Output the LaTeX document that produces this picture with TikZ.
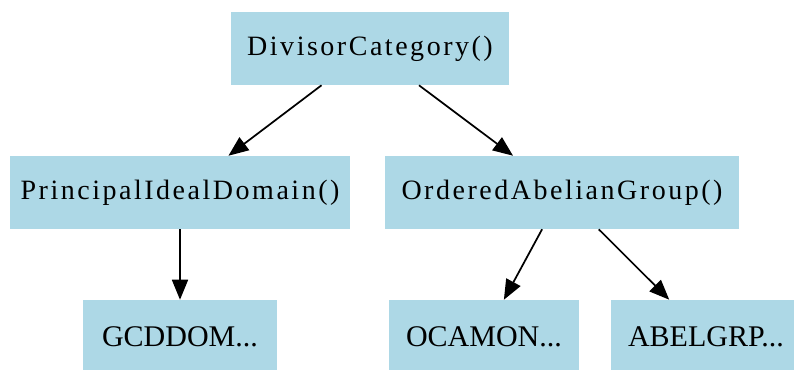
\documentclass[tikz,border=0pt]{standalone}
\usepackage{fontspec}
\setmainfont{Liberation Serif}
\newfontfamily\spacedfont[LetterSpace=9]{Liberation Serif}
\usetikzlibrary{arrows.meta}

\definecolor{categoryFill}{RGB}{173,216,230}

\begin{document}
\begin{tikzpicture}[x=.75pt,y=-.75pt,
      category/.style={fill=categoryFill, inner sep=0pt, minimum height=54.75pt,
        font=\fontsize{21}{24}\selectfont\spacedfont},
      short/.style={category, font=\fontsize{22.5}{26}\selectfont\rmfamily},
      edge/.style={draw, line width=1.3pt,
        -{Triangle[length=15pt, width=12pt]}}]
      \useasboundingbox (0,0) rectangle (794,369);
      \clip (0,0) rectangle (794,369);
      \fill[white] (0,0) rectangle (794,369);

      \node[category, minimum width=208.5pt] (divisor) at (370,48.5) {DivisorCategory()};
      \node[category, minimum width=255pt] (pid) at (180,192.5) {PrincipalIdealDomain()};
      \node[category, minimum width=265.5pt] (oag) at (562,192.5) {OrderedAbelianGroup()};

      \node[short, minimum width=145.5pt] (gcddom) at (180,336.5) {GCDDOM...};
      \node[short, minimum width=142.5pt] (ocamon) at (484,336.5) {OCAMON...};
      \node[short, minimum width=142.5pt] (abelgrp) at (706,336.5) {ABELGRP...};

      \draw[edge] (divisor) -- (pid);
      \draw[edge] (divisor) -- (oag);
      \draw[edge] (pid) -- (gcddom);
      \draw[edge] (oag) -- (ocamon);
      \draw[edge] (oag) -- (abelgrp);
\end{tikzpicture}
\end{document}
